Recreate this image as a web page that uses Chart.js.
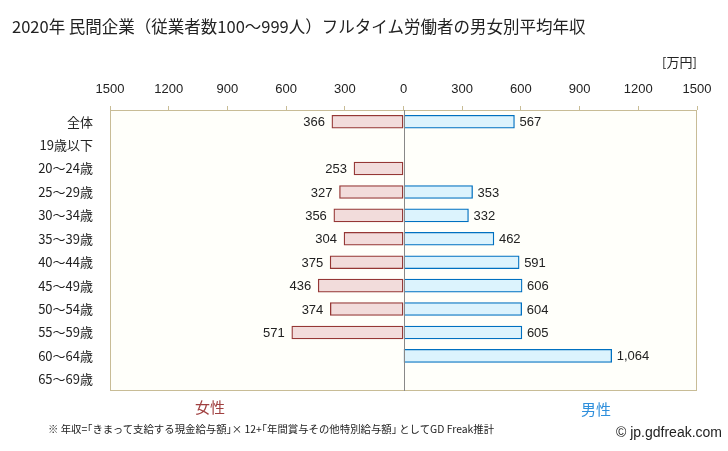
<!DOCTYPE html>
<html><head><meta charset="utf-8">
<script src="https://cdn.jsdelivr.net/npm/chart.js@4"></script>
<style>
html,body{margin:0;padding:0;background:#fff;}
#wrap{position:relative;width:728px;height:451px;overflow:hidden;font-family:"Liberation Sans","Noto Sans CJK JP",sans-serif;}
canvas{position:absolute;left:0;top:0;}
.t{position:absolute;white-space:nowrap;line-height:1;}
</style></head>
<body><div id="wrap">
<canvas id="c" width="728" height="451"></canvas>
<div class="t" style="left:12px;top:18px;font-size:16.5px;color:#222;font-family:'Noto Sans CJK JP',sans-serif;">2020年 民間企業（従業者数100～999人）フルタイム労働者の男女別平均年収</div>
<div class="t" style="left:662px;top:55px;font-size:13px;color:#222;font-family:'Noto Sans CJK JP',sans-serif;">[万円]</div>
<div class="t" style="left:195px;top:399px;font-size:15px;color:#a04040;font-family:'Noto Sans CJK JP',sans-serif;">女性</div>
<div class="t" style="left:581px;top:401px;font-size:15px;color:#2f8fdc;font-family:'Noto Sans CJK JP',sans-serif;">男性</div>
<div class="t" style="left:48px;top:424px;font-size:10.4px;color:#222;font-family:'Noto Sans CJK JP',sans-serif;">※ 年収=｢きまって支給する現金給与額｣× 12+｢年間賞与その他特別給与額｣ としてGD Freak推計</div>
<div class="t" style="left:616px;top:425px;font-size:14px;color:#222;">© jp.gdfreak.com</div>
</div>
<script>
const categories = ["全体","19歳以下","20～24歳","25～29歳","30～34歳","35～39歳","40～44歳","45～49歳","50～54歳","55～59歳","60～64歳","65～69歳"];
const femaleValues = [366, null, 253, 327, 356, 304, 375, 436, 374, 571, null, null];
const maleValues = [567, null, null, 353, 332, 462, 591, 606, 604, 605, 1064, null];
const tickValues = [-1500,-1200,-900,-600,-300,0,300,600,900,1200,1500];

const plotDeco = {
  id: 'plotDeco',
  beforeDatasetsDraw(chart) {
    const a = chart.chartArea, ctx = chart.ctx;
    ctx.save();
    ctx.fillStyle = '#fffffa';
    ctx.fillRect(a.left, a.top, a.right - a.left, a.bottom - a.top);
    ctx.restore();
  },
  afterDatasetsDraw(chart) {
    const a = chart.chartArea, ctx = chart.ctx;
    const xs = chart.scales.x;
    ctx.save();
    ctx.strokeStyle = '#c8bc96';
    ctx.lineWidth = 1;
    ctx.strokeRect(Math.round(a.left)+0.5, Math.round(a.top)+0.5, Math.round(a.right-a.left)-1, Math.round(a.bottom-a.top)-1);
    const x0 = Math.round(xs.getPixelForValue(0)) + 0.5;
    ctx.strokeStyle = '#888888';
    ctx.beginPath(); ctx.moveTo(x0, a.top); ctx.lineTo(x0, a.bottom); ctx.stroke();
    ctx.font = '13px "Liberation Sans", sans-serif';
    ctx.fillStyle = '#222';
    ctx.textBaseline = 'middle';
    chart.data.datasets.forEach((ds, di) => {
      const meta = chart.getDatasetMeta(di);
      meta.data.forEach((el, i) => {
        const v = ds.data[i];
        if (v === null || v === undefined) return;
        const txt = Math.abs(v).toLocaleString('en-US');
        if (v < 0) { ctx.textAlign = 'right'; ctx.fillText(txt, el.x - 7, el.y + 1); }
        else { ctx.textAlign = 'left'; ctx.fillText(txt, el.x + 5, el.y + 1); }
      });
    });
    ctx.restore();
  }
};

new Chart(document.getElementById('c'), {
  type: 'bar',
  data: {
    labels: categories,
    datasets: [
      { label: '女性', data: femaleValues.map(v => v === null ? null : -v), backgroundColor: '#f2dcdb', borderColor: '#953735', borderWidth: 1.3, borderSkipped: false, barThickness: 13 },
      { label: '男性', data: maleValues, backgroundColor: '#dcf3fd', borderColor: '#0070c0', borderWidth: 1.3, borderSkipped: false, barThickness: 13 }
    ]
  },
  options: {
    indexAxis: 'y',
    responsive: false,
    animation: false,
    layout: { padding: { left: 10, right: 31, top: 80, bottom: 60 } },
    plugins: { legend: { display: false }, tooltip: { enabled: false } },
    scales: {
      x: {
        position: 'top', stacked: true, min: -1500, max: 1500,
        afterBuildTicks(scale) { scale.ticks = tickValues.map(v => ({ value: v })); },
        afterFit(scale) { scale.height = 30; },
        ticks: { callback: v => String(Math.abs(v)), font: { size: 13, family: '"Liberation Sans", sans-serif' }, color: '#222', padding: 9, maxRotation: 0, autoSkip: false },
        grid: { drawOnChartArea: false, drawTicks: true, tickLength: 4, color: '#c8bc96' },
        border: { display: false }
      },
      y: {
        stacked: true,
        afterFit(scale) { scale.width = 100; },
        ticks: { font: { size: 13, family: '"Noto Sans CJK JP", sans-serif' }, color: '#222', padding: 17 },
        grid: { display: false, drawTicks: false },
        border: { display: false }
      }
    }
  },
  plugins: [plotDeco]
});
</script>
</body></html>
